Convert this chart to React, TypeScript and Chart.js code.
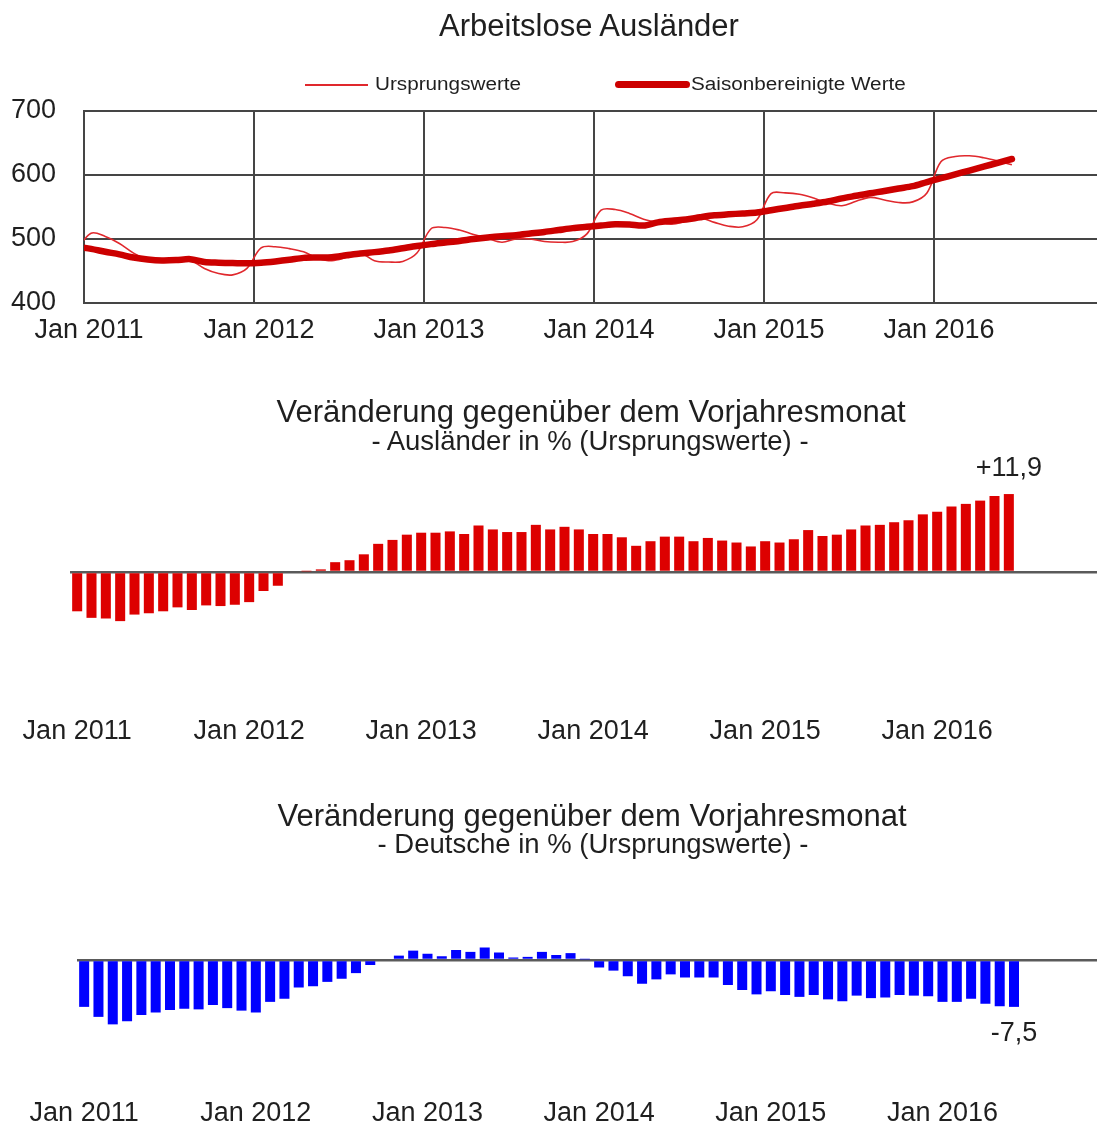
import React, { useEffect, useRef } from "react";
import { Chart, registerables } from "chart.js";

Chart.register(...registerables);

const FONT = "'Liberation Sans', Arial, Helvetica, sans-serif";
const TEXT = "#1f1f1f";
const GRID = "#454545";
const ZERO = "#5a5a5a";

const YEARS = [2011, 2012, 2013, 2014, 2015, 2016];
const MONTHS = ["Jan", "Feb", "Mär", "Apr", "Mai", "Jun", "Jul", "Aug", "Sep", "Okt", "Nov", "Dez"];
const YEAR_TICK_LABELS = ["Jan 2011", "Jan 2012", "Jan 2013", "Jan 2014", "Jan 2015", "Jan 2016"];

// axis categories Jan 2011 – Dez 2016
const AXIS_MONTHS = YEARS.flatMap((y) => MONTHS.map((m) => `${m} ${y}`));

// Arbeitslose Ausländer in Tsd., Dez 2010 – Jun 2016
const URSPRUNGSWERTE = [
  483,
  509, 504, 493, 478, 468, 466, 468, 467, 454, 446, 444, 454,
  486, 488, 485, 480, 470, 466, 471, 478, 466, 464, 465, 478,
  516, 518, 514, 507, 501, 495, 500, 500, 496, 495, 496, 508,
  545, 546, 540, 531, 526, 523, 528, 533, 526, 520, 519, 530,
  571, 572, 570, 564, 556, 552, 559, 565, 561, 557, 558, 572,
  621, 629, 630, 627, 622, 616,
];

const SAISONBEREINIGT = [
  488,
  484.5, 480, 476, 471, 468, 466.5, 467, 468.5, 464, 463, 462.5, 462,
  463, 465, 467.5, 470.5, 471, 471.5, 474.5, 477.5, 479.5, 482, 485.5, 489,
  492, 494.5, 497, 500, 502.5, 504.5, 506, 508.5, 511, 514, 517, 519,
  521, 523, 522.5, 521, 526, 528.5, 530.5, 534, 537, 538.5, 540, 541.5,
  545, 548.5, 552, 555, 558.5, 563.5, 567.5, 571.5, 575, 579, 582.5, 589,
  595, 601, 607, 613, 619, 625,
];

// Veränderung gegenüber Vorjahresmonat in %, Jan 2011 – Jun 2016
const AUSLAENDER_VJ = [
  -6.0, -7.0, -7.1, -7.5, -6.5, -6.3, -6.0, -5.4, -5.8, -5.1, -5.2, -5.0,
  -4.6, -2.9, -2.1, 0.0, 0.1, 0.4, 1.5, 1.8, 2.7, 4.3, 4.9, 5.7,
  6.0, 6.0, 6.2, 5.8, 7.1, 6.5, 6.1, 6.1, 7.2, 6.5, 6.9, 6.5,
  5.8, 5.8, 5.3, 4.0, 4.7, 5.4, 5.4, 4.7, 5.2, 4.8, 4.5, 3.9,
  4.7, 4.5, 5.0, 6.4, 5.5, 5.7, 6.5, 7.1, 7.2, 7.6, 7.9, 8.8,
  9.2, 10.0, 10.4, 10.9, 11.6, 11.9,
];

const DEUTSCHE_VJ = [
  -7.5, -9.1, -10.3, -9.8, -8.8, -8.4, -8.0, -7.8, -7.9, -7.2, -7.7, -8.1,
  -8.4, -6.7, -6.2, -4.4, -4.2, -3.5, -3.0, -2.1, -0.8, 0.0, 0.7, 1.5,
  1.0, 0.6, 1.6, 1.3, 2.0, 1.2, 0.4, 0.5, 1.3, 0.8, 1.1, 0.1,
  -1.2, -1.7, -2.6, -3.8, -3.1, -2.3, -2.8, -2.8, -2.8, -4.0, -4.8, -5.5,
  -5.0, -5.6, -5.9, -5.6, -6.3, -6.6, -5.7, -6.1, -6.0, -5.6, -5.7, -5.8,
  -6.7, -6.7, -6.2, -7.0, -7.4, -7.5,
];

Chart.defaults.font.family = FONT;

const lastValueLabel = {
  id: "lastValueLabel",
  afterDatasetsDraw(chart: any) {
    const data = chart.data.datasets[0].data as number[];
    const idx = data.length - 1;
    const v = data[idx];
    const el = chart.getDatasetMeta(0).data[idx];
    if (!el) return;
    const ctx = chart.ctx;
    ctx.save();
    ctx.font = `27px ${FONT}`;
    ctx.fillStyle = TEXT;
    ctx.textAlign = "center";
    ctx.textBaseline = "middle";
    const text = (v > 0 ? "+" : "") + v.toFixed(1).replace(".", ",");
    ctx.fillText(text, el.x, el.y + (v >= 0 ? -26 : 27));
    ctx.restore();
  },
};

function barConfig(values: number[], color: string, padTop: number, axisH: number, leftW: number): any {
  return {
    type: "bar",
    data: {
      labels: AXIS_MONTHS,
      datasets: [
        {
          data: values,
          backgroundColor: color,
          borderWidth: 0,
          barPercentage: 0.7,
          categoryPercentage: 1,
        },
      ],
    },
    options: {
      responsive: false,
      animation: false,
      layout: { padding: { top: padTop, left: 0, right: 0, bottom: 0 } },
      plugins: { legend: { display: false }, tooltip: { enabled: false } },
      scales: {
        x: {
          type: "category",
          offset: true,
          grid: { display: false, drawTicks: false },
          border: { display: false },
          afterFit: (s: any) => {
            s.height = axisH;
          },
          ticks: {
            autoSkip: false,
            maxRotation: 0,
            padding: 12,
            color: TEXT,
            font: { size: 27, family: FONT },
            callback: (_v: any, i: number) => (i % 12 === 0 ? AXIS_MONTHS[i] : null),
          },
        },
        y: {
          min: -20,
          max: 20,
          afterFit: (s: any) => {
            s.width = leftW;
          },
          ticks: { display: false, stepSize: 20 },
          grid: {
            drawTicks: false,
            lineWidth: 2.5,
            color: (c: any) => (c.tick && c.tick.value === 0 ? ZERO : "rgba(0,0,0,0)"),
          },
          border: { display: false },
        },
      },
    },
    plugins: [lastValueLabel],
  };
}

function Txt({ x, y, size, children, style }: any) {
  return (
    <div
      style={{
        position: "absolute",
        left: x,
        top: y,
        transform: "translate(-50%, -50%)",
        whiteSpace: "nowrap",
        fontSize: size,
        lineHeight: 1,
        fontFamily: FONT,
        color: TEXT,
        ...style,
      }}
    >
      {children}
    </div>
  );
}

export default function App() {
  const c1 = useRef<HTMLCanvasElement>(null);
  const c2 = useRef<HTMLCanvasElement>(null);
  const c3 = useRef<HTMLCanvasElement>(null);

  useEffect(() => {
    const lineData = (arr: number[]) => arr.map((v, k) => ({ x: k - 0.5, y: v }));
    const top = new Chart(c1.current as HTMLCanvasElement, {
      type: "line",
      data: {
        datasets: [
          {
            label: "Saisonbereinigte Werte",
            data: lineData(SAISONBEREINIGT),
            borderColor: "#cc0000",
            borderWidth: 6.5,
            tension: 0.3,
            pointRadius: 0,
            borderCapStyle: "round",
            borderJoinStyle: "round",
            clip: 0,
            fill: false,
          },
          {
            label: "Ursprungswerte",
            data: lineData(URSPRUNGSWERTE),
            borderColor: "#e0282d",
            borderWidth: 1.6,
            tension: 0.35,
            pointRadius: 0,
            clip: 0,
            fill: false,
          },
        ],
      },
      options: {
        responsive: false,
        animation: false,
        layout: { padding: { top: 111, left: 0, right: 0, bottom: 0 } },
        plugins: { legend: { display: false }, tooltip: { enabled: false } },
        scales: {
          x: {
            type: "linear",
            min: 0,
            max: 72,
            afterBuildTicks: (s: any) => {
              s.ticks = YEAR_TICK_LABELS.map((_, j) => ({ value: j * 12 }));
            },
            afterFit: (s: any) => {
              s.height = 47;
            },
            grid: { color: GRID, lineWidth: 2, drawTicks: false },
            border: { color: GRID, width: 2 },
            ticks: {
              autoSkip: false,
              maxRotation: 0,
              padding: 11,
              labelOffset: 5,
              color: TEXT,
              font: { size: 27, family: FONT },
              callback: (v: any) => YEAR_TICK_LABELS[Math.round(Number(v) / 12)] ?? "",
            },
          },
          y: {
            min: 400,
            max: 700,
            afterFit: (s: any) => {
              s.width = 84;
            },
            grid: { color: GRID, lineWidth: 2, drawTicks: false },
            border: { color: GRID, width: 2 },
            ticks: { stepSize: 100, padding: 28, color: TEXT, font: { size: 27, family: FONT } },
          },
        },
      },
    } as any);

    const mid = new Chart(c2.current as HTMLCanvasElement, barConfig(AUSLAENDER_VJ, "#dd0000", 61, 77, 70));
    const bot = new Chart(c3.current as HTMLCanvasElement, barConfig(DEUTSCHE_VJ, "#0000ff", 55, 45, 77));

    return () => {
      top.destroy();
      mid.destroy();
      bot.destroy();
    };
  }, []);

  const canvasStyle = (t: number, w: number, h: number): React.CSSProperties => ({
    position: "absolute",
    left: 0,
    top: t,
    width: w,
    height: h,
  });

  return (
    <div
      style={{
        position: "fixed",
        left: 0,
        top: 0,
        width: 1097,
        height: 1124,
        overflow: "hidden",
        background: "#ffffff",
        fontFamily: FONT,
      }}
    >
      <canvas ref={c1} width={1104} height={350} style={canvasStyle(0, 1104, 350)} />
      <canvas ref={c2} width={1102} height={400} style={canvasStyle(380, 1102, 400)} />
      <canvas ref={c3} width={1107} height={350} style={canvasStyle(780, 1107, 350)} />

      <Txt x={589} y={25} size={31}>Arbeitslose Ausländer</Txt>

      <div style={{ position: "absolute", left: 305, top: 84, width: 63, height: 2, background: "#e0282d" }} />
      <div
        style={{
          position: "absolute",
          left: 375,
          top: 84,
          transform: "translateY(-50%) scaleX(1.15)",
          transformOrigin: "left center",
          fontSize: 18,
          lineHeight: 1,
          whiteSpace: "nowrap",
          color: TEXT,
        }}
      >
        Ursprungswerte
      </div>
      <div
        style={{
          position: "absolute",
          left: 615,
          top: 81,
          width: 75,
          height: 7,
          borderRadius: 4,
          background: "#cc0000",
        }}
      />
      <div
        style={{
          position: "absolute",
          left: 691,
          top: 84,
          transform: "translateY(-50%) scaleX(1.15)",
          transformOrigin: "left center",
          fontSize: 18,
          lineHeight: 1,
          whiteSpace: "nowrap",
          color: TEXT,
        }}
      >
        Saisonbereinigte Werte
      </div>

      <Txt x={591} y={411} size={31}>Veränderung gegenüber dem Vorjahresmonat</Txt>
      <Txt x={590} y={441} size={27.5}>- Ausländer in % (Ursprungswerte) -</Txt>

      <Txt x={592} y={815} size={31}>Veränderung gegenüber dem Vorjahresmonat</Txt>
      <Txt x={593} y={844} size={27.5}>- Deutsche in % (Ursprungswerte) -</Txt>
    </div>
  );
}
